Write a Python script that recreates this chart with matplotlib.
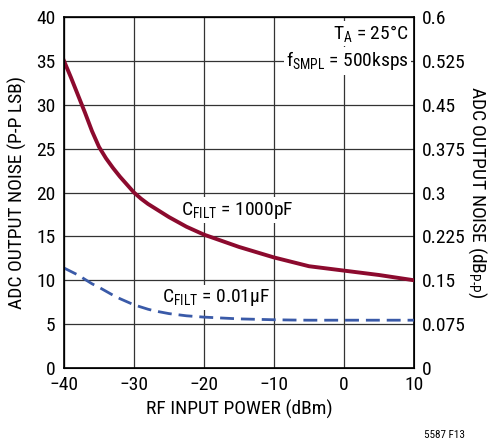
import matplotlib
matplotlib.use("Agg")
import matplotlib.pyplot as plt

plt.rcParams['font.family'] = ['Roboto Condensed', 'Liberation Sans', 'DejaVu Sans']
plt.rcParams['mathtext.fontset'] = 'custom'
plt.rcParams['mathtext.rm'] = 'Roboto Condensed'
plt.rcParams['mathtext.it'] = 'Roboto Condensed'

# RF input power (dBm)
power = [-40, -39, -38, -37, -36, -35, -34, -33, -32, -31, -30, -29, -28, -27, -26, -25,
         -22.5, -20, -17.5, -15, -12.5, -10, -7.5, -5, -2.5, 0, 5, 10]
# ADC output noise, P-P LSB
noise_1000pF = [35, 33.1, 31.1, 29.1, 27.0, 25.2, 23.9, 22.8, 21.8, 20.9, 20.0, 19.3, 18.7, 18.2, 17.7, 17.2,
                16.1, 15.2, 14.5, 13.8, 13.2, 12.6, 12.1, 11.6, 11.35, 11.1, 10.6, 10.0]
noise_001uF = [11.4, 11.0, 10.6, 10.1, 9.6, 9.2, 8.75, 8.3, 7.9, 7.55, 7.2, 6.95, 6.7, 6.5, 6.35, 6.2,
               5.95, 5.8, 5.7, 5.6, 5.55, 5.5, 5.47, 5.45, 5.45, 5.45, 5.45, 5.45]

right_ticks = [0, 0.075, 0.15, 0.225, 0.3, 0.375, 0.45, 0.525, 0.6]
right_labels = ['0', '0.075', '0.15', '0.225', '0.3', '0.375', '0.45', '0.525', '0.6']

fs = 14

fig = plt.figure(figsize=(4.9, 4.47), dpi=100)
ax = fig.add_axes([0.1306, 0.1767, 0.7143, 0.7852])

ax.plot(power, noise_1000pF, color='#8c0a2e', lw=2.8, zorder=3)
ax.plot(power, noise_001uF, color='#3a5aa8', lw=2.0, ls=(0, (5, 2.5)), zorder=3)

ax.set_xlim(-40, 10)
ax.set_ylim(0, 40)
ax.set_xticks(range(-40, 11, 10))
ax.set_xticklabels(['\u221240', '\u221230', '\u221220', '\u221210', '0', '10'])
ax.set_yticks(range(0, 41, 5))
ax.grid(True, color='#333333', lw=0.9)
ax.tick_params(length=0, labelsize=fs, pad=6)
for s in ax.spines.values():
    s.set_linewidth(1.2)

ax.set_xlabel('RF INPUT POWER (dBm)', fontsize=fs, labelpad=4)
ax.set_ylabel('ADC OUTPUT NOISE (P-P LSB)', fontsize=fs, labelpad=7)

ax2 = ax.twinx()
ax2.set_ylim(0, 0.6)
ax2.set_yticks(right_ticks)
ax2.set_yticklabels(right_labels)
ax2.tick_params(length=0, labelsize=fs, pad=6)
ax2.set_ylabel('ADC OUTPUT NOISE (dB$_{\\mathrm{P\u2010P}}$)', fontsize=fs, rotation=270, labelpad=16)

box = dict(facecolor='white', edgecolor='none', pad=1.5)
ax.text(-15.2, 18, 'C$_{\\mathrm{FILT}}$ = 1000pF', fontsize=fs, ha='center', va='center', bbox=box, zorder=2.5)
ax.text(-18.3, 8.0, 'C$_{\\mathrm{FILT}}$ = 0.01\u00b5F', fontsize=fs, ha='center', va='center', bbox=box, zorder=2.5)
ax.text(9.2, 38.1, 'T$_{\\mathrm{A}}$ = 25\u00b0C', fontsize=fs, ha='right', va='center', bbox=box, zorder=2.5)
ax.text(9.2, 35.0, 'f$_{\\mathrm{SMPL}}$ = 500ksps', fontsize=fs, ha='right', va='center', bbox=box, zorder=2.5)

fig.text(0.948, 0.015, '5587 F13', fontsize=8, ha='right', va='bottom')

fig.savefig('out.png', dpi=100)
